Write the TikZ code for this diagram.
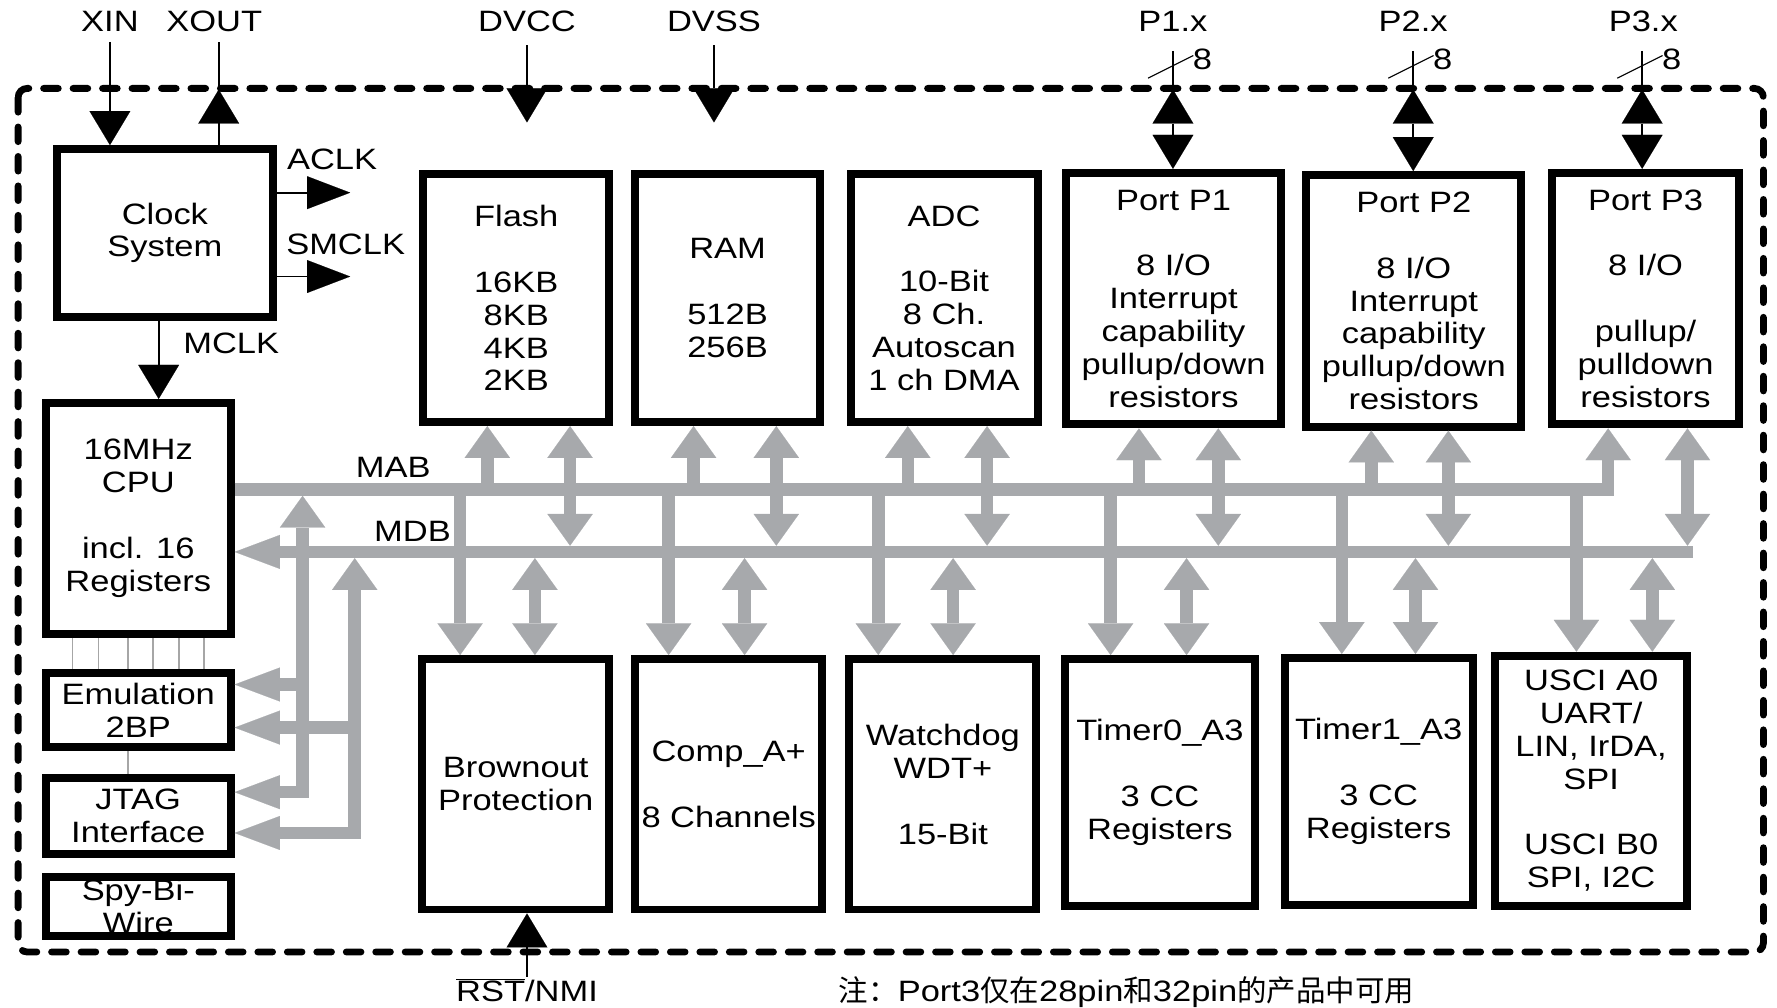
\documentclass[tikz,border=0pt]{standalone}
\usepackage{fontspec}
\setmainfont{Liberation Sans}[FakeStretch=1.17]
\newfontfamily\cjk{Noto Sans CJK SC}
\usetikzlibrary{arrows.meta}
\definecolor{busgray}{RGB}{167,169,172}
\newcommand{\mfont}{\fontsize{26}{29}\selectfont}
\begin{document}
\begin{tikzpicture}[x=1pt,y=-1pt,
  box/.style={draw=black, line width=7pt, align=center, inner sep=0pt, font=\mfont},
  lbl/.style={inner sep=0pt, font=\mfont},
  border/.style={draw=black, line width=6pt, dash pattern=on 13pt off 13pt, line cap=round, rounded corners=8pt},
  bus/.style={draw=busgray, line width=11pt},
  bustip/.tip={Triangle[width=40pt,length=28pt,line width=0.1pt]},
  bustiph/.tip={Triangle[width=30pt,length=40pt,line width=0.1pt]},
  busarr/.style={bus, -bustip},
  busarrh/.style={bus, -bustiph},
  busdbl/.style={bus, bustip-bustip},
  busL/.style={bus, bustiph-bustip},
  blk/.style={draw=black, line width=1.6pt},
  blktip/.tip={Triangle[width=36pt,length=30pt,line width=0.1pt]},
  blktiph/.tip={Triangle[width=29pt,length=38pt,line width=0.1pt]},
  blkarr/.style={blk, -blktip},
  blkarrh/.style={blk, -blktiph},
  blkdbl/.style={blk, blktip-blktip},
  thinline/.style={draw=gray!70, line width=1.2pt}
]
\useasboundingbox (0,0) rectangle (1568,889);
\draw[border] (16,78) rectangle (1556,840);

% left column
\node[box, minimum width=190pt, minimum height=148pt] (clock) at (145.5,205.5) {Clock\\System};
\node[box, minimum width=163pt, minimum height=204pt] (cpu) at (122,457.5) {16MHz\\CPU\\[29pt]incl. 16\\Registers};
\node[box, minimum width=163pt, minimum height=66pt] (emu) at (122,626.5) {Emulation\\2BP};
\node[box, minimum width=163pt, minimum height=67pt] (jtag) at (122,720) {JTAG\\Interface};
\node[box, minimum width=163pt, minimum height=52pt] (sbw) at (122,799.5) {Spy-Bi-\\Wire};

% top modules
\node[box, minimum width=164pt, minimum height=219pt] (flash) at (455.5,263) {Flash\\[29pt]16KB\\8KB\\4KB\\2KB};
\node[box, minimum width=163pt, minimum height=219pt] (ram) at (642,263) {RAM\\[29pt]512B\\256B};
\node[box, minimum width=165pt, minimum height=219pt] (adc) at (833,263) {ADC\\[29pt]10-Bit\\8 Ch.\\Autoscan\\1 ch DMA};
\node[box, minimum width=190pt, minimum height=222pt] (port1) at (1035.5,263.5) {Port P1\\[29pt]8 I/O\\Interrupt\\capability\\pullup/down\\resistors};
\node[box, minimum width=190pt, minimum height=222pt] (port2) at (1247.5,265.5) {Port P2\\[29pt]8 I/O\\Interrupt\\capability\\pullup/down\\resistors};
\node[box, minimum width=165pt, minimum height=222pt] (port3) at (1452,263.5) {Port P3\\[29pt]8 I/O\\[29pt]pullup/\\pulldown\\resistors};

% bottom modules
\node[box, minimum width=165pt, minimum height=221pt] (bod) at (455,692) {Brownout\\Protection};
\node[box, minimum width=165pt, minimum height=221pt] (comp) at (643,692) {Comp\_A+\\[29pt]8 Channels};
\node[box, minimum width=165pt, minimum height=221pt] (wdt) at (832,692) {Watchdog\\WDT+\\[29pt]15-Bit};
\node[box, minimum width=168pt, minimum height=218pt] (tim0) at (1023.5,690.5) {Timer0\_A3\\[29pt]3 CC\\Registers};
\node[box, minimum width=166pt, minimum height=218pt] (tim1) at (1216.5,689.5) {Timer1\_A3\\[29pt]3 CC\\Registers};
\node[box, minimum width=169pt, minimum height=221pt] (usci) at (1404,689) {USCI A0\\UART/\\LIN, IrDA,\\SPI\\[29pt]USCI B0\\SPI, I2C};

% labels
\node[lbl] (lxin) at (97,19) {XIN};
\node[lbl] (lxout) at (189,19) {XOUT};
\node[lbl] (ldvcc) at (465,19) {DVCC};
\node[lbl] (ldvss) at (630,19) {DVSS};
\node[lbl] (lp1) at (1035,19) {P1.x};
\node[lbl] (lp2) at (1247,19) {P2.x};
\node[lbl] (lp3) at (1450,19) {P3.x};
\node[lbl] (laclk) at (293,141) {ACLK};
\node[lbl] (lsmclk) at (305,216) {SMCLK};
\node[lbl] (lmclk) at (204,303) {MCLK};
\node[lbl] (lmab) at (347,412) {MAB};
\node[lbl] (lmdb) at (364,469) {MDB};
\node[lbl, anchor=base] (lrst) at (465,884) {$\overline{\hbox{RST}}$/NMI};
\node[lbl, anchor=base west] (note) at (740,884) {{\cjk 注：}Port3{\cjk 仅在}28pin{\cjk 和}32pin{\cjk 的产品中可用}};

% clock connections
\coordinate (xin) at (97,37);
\draw[blkarr] (xin) -- (xin |- clock.north);
\coordinate (xout) at (193,37);
\coordinate (xoutb) at (193,79);
\draw[blk] (clock.north -| xout) -- (xout);
\draw[blkarr] (clock.north -| xout) -- (xoutb);
\coordinate (aclk) at (309,170);
\draw[blkarrh] (clock.east |- aclk) -- (aclk);
\coordinate (smclk) at (309,244);
\draw[blkarrh] (clock.east |- smclk) -- (smclk);
\coordinate (mclk) at (140,300);
\draw[blkarr] (clock.south -| mclk) -- (cpu.north -| mclk);

% supply
\coordinate (dvcc) at (465,40);
\coordinate (dvcce) at (465,108);
\draw[blkarr] (dvcc) -- (dvcce);
\coordinate (dvss) at (630,40);
\coordinate (dvsse) at (630,108);
\draw[blkarr] (dvss) -- (dvsse);

% ports
\foreach \p/\x in {1/1035,2/1247,3/1449}{
  \coordinate (pt\p) at (\x,45);
  \coordinate (pb\p) at (\x,79);
  \coordinate (sa\p) at (\x-22,69);
  \coordinate (sb\p) at (\x+18,49);
  \draw[blk] (pt\p) -- (pb\p);
  \draw[blkdbl] (pb\p) -- (pb\p |- port\p.north);
  \draw[blk, line width=1pt] (sa\p) -- (sb\p);
  \node[lbl] (eight\p) at (\x+26,52) {8};
}

% reset
\coordinate (rst) at (465,862);
\draw[blkarr] (rst) -- (rst |- bod.south);

% thin links
\foreach \x in {64,87,113,135,158,180}{
  \coordinate (tl\x) at (\x,0);
  \draw[thinline] (cpu.south -| tl\x) -- (emu.north -| tl\x);
}
\coordinate (tlj) at (113,0);
\draw[thinline] (emu.south -| tlj) -- (jtag.north -| tlj);

% buses
\coordinate (mabR) at (1419,432);
\coordinate (mdbR) at (1494,487);
\draw[busarr] (cpu.east |- mabR) -- (mabR) -- (mabR |- port3.south);
\draw[busarrh] (mdbR) -- (cpu.east |- mdbR);
\coordinate (mdport3) at (1489,481.5);
\draw[busdbl] (mdport3) -- (mdport3 |- port3.south);

\foreach \n/\u/\d in {flash/430/503, ram/612/685, adc/801/871, port1/1005/1075, port2/1210/1278}{
  \coordinate (mu\n) at (\u,432);
  \coordinate (md\n) at (\d,481.5);
  \draw[busarr] (mu\n) -- (mu\n |- \n.south);
  \draw[busdbl] (md\n) -- (md\n |- \n.south);
}
\foreach \n/\u/\d in {bod/406/472, comp/590/657, wdt/775/841, tim0/980/1047, tim1/1184/1249, usci/1391/1458}{
  \coordinate (bu\n) at (\u,432);
  \coordinate (bd\n) at (\d,492.5);
  \draw[busarr] (bu\n) -- (bu\n |- \n.north);
  \draw[busdbl] (bd\n) -- (bd\n |- \n.north);
}

% debug links
\coordinate (ja) at (267,699);
\coordinate (jat) at (267,437.5);
\coordinate (ea) at (267,604);
\draw[busL] (jtag.east |- ja) -- (ja) -- (jat);
\draw[busarrh] (ea) -- (emu.east |- ea);
\coordinate (jb) at (313,735);
\coordinate (jbt) at (313,492.5);
\coordinate (eb) at (313,642);
\draw[busL] (jtag.east |- jb) -- (jb) -- (jbt);
\draw[busarrh] (eb) -- (emu.east |- eb);
\end{tikzpicture}
\end{document}
